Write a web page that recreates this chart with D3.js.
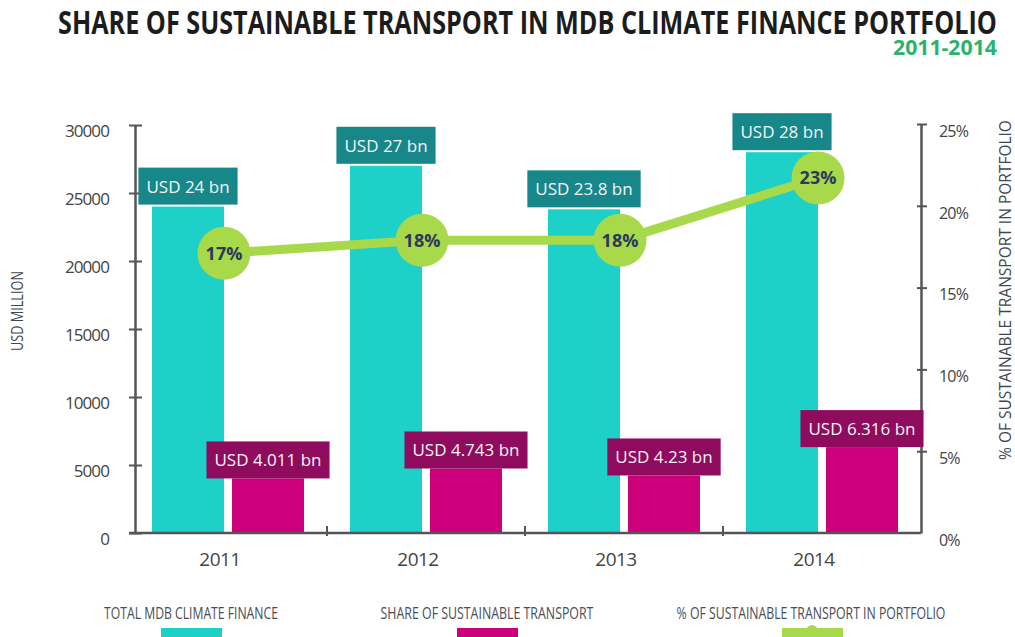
<!DOCTYPE html>
<html>
<head>
<meta charset="utf-8">
<script src="https://cdn.jsdelivr.net/npm/d3@7"></script>
<style>
  body { margin: 0; background: #fff; }
  text { font-family: "Open Sans", sans-serif; }
</style>
</head>
<body>
<div id="chart"></div>
<script>
// chart data
const years = ["2011", "2012", "2013", "2014"];
const totalFinance = [24000, 27000, 23800, 28000];
const totalLabels = ["USD 24 bn", "USD 27 bn", "USD 23.8 bn", "USD 28 bn"];
const transportShare = [4011, 4743, 4230, 6316];
const shareLabels = ["USD 4.011 bn", "USD 4.743 bn", "USD 4.23 bn", "USD 6.316 bn"];
// where the green dots sit against the right axis, and what they say
const pctPlotted = [17.1, 17.9, 17.9, 21.7];
const pctLabels = ["17%", "18%", "18%", "23%"];
const leftTicks = [0, 5000, 10000, 15000, 20000, 25000, 30000];
const rightTicks = [0, 5, 10, 15, 20, 25];

const width = 1015;
const height = 637;

const teal = "#1dd0c8", tealDark = "#17878a";
const pink = "#cc007a", pinkDark = "#8f0b5d";
const green = "#a8d94a";

const svg = d3.select("#chart")
  .append("svg")
  .attr("width", width)
  .attr("height", height);

// squeeze a text horizontally so it fills a given width (the original font is condensed)
function condense(sel, targetWidth) {
  sel.each(function() {
    const node = this;
    const w = node.getComputedTextLength();
    const k = targetWidth / w;
    const xx = +node.getAttribute("x") || 0;
    node.setAttribute("transform", `translate(${xx},0) scale(${k},1) translate(${-xx},0)`);
  });
}

// scales
const x = d3.scaleBand().domain(years).range([129, 921]);
const sub = d3.scaleBand().domain(["total", "share"])
  .range([0, x.bandwidth()])
  .paddingInner(0.1)
  .paddingOuter(0.2875);
const y = d3.scaleLinear().domain([0, 30000]).range([533, 125]);
const yPct = d3.scaleLinear().domain([0, 25]).range([533, 124]);

const axisColor = "#555";

// title
svg.append("text")
  .attr("x", 58).attr("y", 34.5)
  .style("font-size", "32px")
  .style("font-weight", 700)
  .style("fill", "#1c1c1c")
  .text("SHARE OF SUSTAINABLE TRANSPORT IN MDB CLIMATE FINANCE PORTFOLIO")
  .call(condense, 939);

svg.append("text")
  .attr("x", 893).attr("y", 55)
  .style("font-size", "21px")
  .style("font-weight", 700)
  .style("fill", "#2bb36b")
  .text("2011-2014")
  .call(condense, 104);

// bars
const rows = years.map((yr, i) => ({
  year: yr, total: totalFinance[i], share: transportShare[i],
  totalLabel: totalLabels[i], shareLabel: shareLabels[i],
  pct: pctPlotted[i], pctLabel: pctLabels[i]
}));

svg.append("g").selectAll("rect")
  .data(rows)
  .join("rect")
  .attr("x", d => x(d.year) + sub("total"))
  .attr("y", d => y(d.total))
  .attr("width", sub.bandwidth())
  .attr("height", d => y(0) - y(d.total))
  .style("fill", teal);

svg.append("g").selectAll("rect")
  .data(rows)
  .join("rect")
  .attr("x", d => x(d.year) + sub("share"))
  .attr("y", d => y(d.share))
  .attr("width", sub.bandwidth())
  .attr("height", d => y(0) - y(d.share))
  .style("fill", pink);

// axes
const yAxis = svg.append("g")
  .attr("transform", "translate(135,0)")
  .call(d3.axisLeft(y).tickValues(leftTicks).tickFormat(d3.format("d")).tickSize(6).tickSizeOuter(0).tickPadding(20));
yAxis.select(".domain").attr("stroke", axisColor).attr("stroke-width", 2.5);
yAxis.selectAll(".tick line").attr("x2", -6).attr("x1", 7).attr("stroke", axisColor).attr("stroke-width", 2);
yAxis.selectAll(".tick text")
  .attr("dy", "0.85em").attr("y", -3)
  .style("font-size", "17px").style("fill", "#444")
  .style("font-family", "'Open Sans', sans-serif")
  .style("letter-spacing", "-0.9px");

const rAxis = svg.append("g")
  .attr("transform", "translate(921,0)")
  .call(d3.axisRight(yPct).tickValues(rightTicks).tickFormat(d => d + "%").tickSize(6).tickSizeOuter(0).tickPadding(12));
rAxis.select(".domain").attr("stroke", axisColor).attr("stroke-width", 2.5);
rAxis.selectAll(".tick line").attr("x1", -4).attr("x2", 6).attr("stroke", axisColor).attr("stroke-width", 2);
rAxis.selectAll(".tick text")
  .attr("dy", "0.95em").attr("y", -3)
  .style("font-size", "16px").style("fill", "#444")
  .style("font-family", "'Open Sans', sans-serif")
  .style("letter-spacing", "-0.8px");
rAxis.selectAll(".tick").filter(d => d === 0).select("line").remove();

// x axis line with ticks between the years
svg.append("line")
  .attr("x1", 129).attr("x2", 921)
  .attr("y1", y(0)).attr("y2", y(0))
  .attr("stroke", axisColor).attr("stroke-width", 2.5);
svg.append("g").selectAll("line")
  .data(years.slice(0, -1))
  .join("line")
  .attr("x1", d => x(d) + x.bandwidth()).attr("x2", d => x(d) + x.bandwidth())
  .attr("y1", y(0) - 7).attr("y2", y(0) + 3)
  .attr("stroke", axisColor).attr("stroke-width", 2);

svg.append("g").selectAll("text")
  .data(years)
  .join("text")
  .attr("x", d => x(d) + x.bandwidth() / 2 - 8)
  .attr("y", 566)
  .attr("text-anchor", "middle")
  .style("font-size", "19px")
  .style("fill", "#444")
  .style("letter-spacing", "-0.5px")
  .text(d => d);

// axis titles
svg.append("g")
  .attr("transform", "translate(23,311) rotate(-90)")
  .append("text")
  .attr("x", 0)
  .attr("text-anchor", "middle")
  .style("font-size", "17px")
  .style("fill", "#3d4852")
  .text("USD MILLION")
  .call(condense, 80);

svg.append("g")
  .attr("transform", "translate(1011,290) rotate(-90)")
  .append("text")
  .attr("x", 0)
  .attr("text-anchor", "middle")
  .style("font-size", "17px")
  .style("fill", "#3d4852")
  .text("% OF SUSTAINABLE TRANSPORT IN PORTFOLIO")
  .call(condense, 340);

// value labels on the bars
function valueLabel(g, cx, bottom, txt, fill) {
  const t = g.append("text")
    .attr("x", cx).attr("y", bottom - 12)
    .attr("text-anchor", "middle")
    .style("font-size", "17px")
    .style("fill", "#f4f4f4")
    .text(txt);
  const w = t.node().getComputedTextLength() + 16;
  g.insert("rect", "text")
    .attr("x", cx - w / 2).attr("y", bottom - 37)
    .attr("width", w).attr("height", 37)
    .style("fill", fill);
}

rows.forEach(d => {
  const gt = svg.append("g");
  valueLabel(gt, x(d.year) + sub("total") + sub.bandwidth() / 2, y(d.total) - 2, d.totalLabel, tealDark);
  const gs = svg.append("g");
  valueLabel(gs, x(d.year) + sub("share") + sub.bandwidth() / 2, y(d.share), d.shareLabel, pinkDark);
});

// percentage line
const px = d => x(d.year) + x.bandwidth() / 2 - 4;
const line = d3.line().x(px).y(d => yPct(d.pct));

svg.append("path")
  .datum(rows)
  .attr("d", line)
  .attr("fill", "none")
  .attr("stroke", green)
  .attr("stroke-width", 9);

const dots = svg.append("g").selectAll("g")
  .data(rows)
  .join("g")
  .attr("transform", d => `translate(${px(d)},${yPct(d.pct)})`);
dots.append("circle")
  .attr("r", 26.5)
  .style("fill", green);
dots.append("text")
  .attr("text-anchor", "middle")
  .attr("dy", "0.36em")
  .style("font-size", "18px")
  .style("font-weight", 700)
  .style("fill", "#2b3a5c")
  .text(d => d.pctLabel);

// legend
const legendItems = [
  { label: "TOTAL MDB CLIMATE FINANCE", cx: 191, len: 174, sw: 191, color: teal },
  { label: "SHARE OF SUSTAINABLE TRANSPORT", cx: 487, len: 213, sw: 487, color: pink },
  { label: "% OF SUSTAINABLE TRANSPORT IN PORTFOLIO", cx: 811, len: 269, sw: 812, color: green, dot: true }
];
const legend = svg.append("g").selectAll("g")
  .data(legendItems)
  .join("g");
legend.append("text")
  .attr("x", d => d.cx).attr("y", 619)
  .attr("text-anchor", "middle")
  .style("font-size", "17px")
  .style("fill", "#4a4d57")
  .text(d => d.label)
  .each(function(d) { d3.select(this).call(condense, d.len); });
legend.append("rect")
  .attr("x", d => d.sw - 30).attr("y", 628)
  .attr("width", 61).attr("height", 12)
  .style("fill", d => d.color);
legend.filter(d => d.dot).append("circle")
  .attr("cx", d => d.sw).attr("cy", 631)
  .attr("r", 6)
  .style("fill", d => d.color);
</script>
</body>
</html>
